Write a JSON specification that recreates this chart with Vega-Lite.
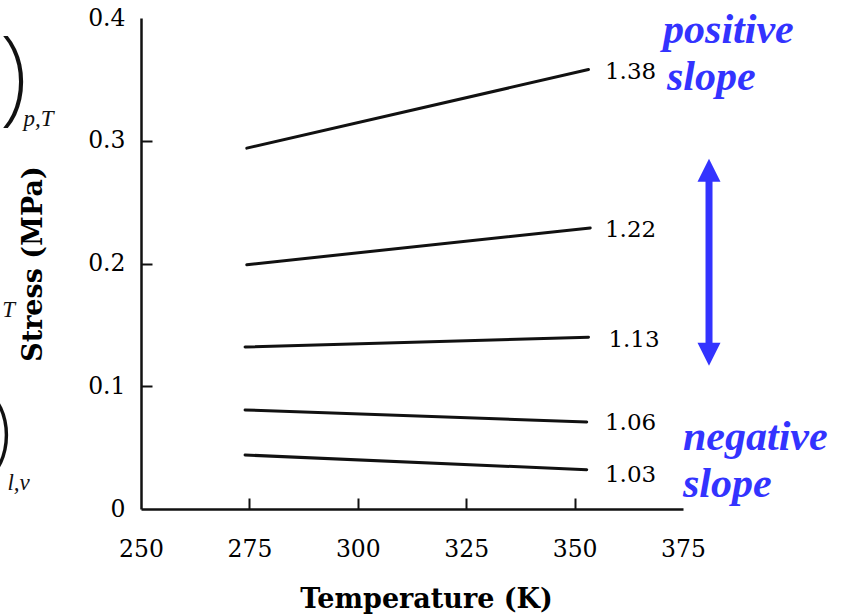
{
  "$schema": "https://vega.github.io/schema/vega-lite/v6.json",
  "width": 542,
  "height": 491,
  "autosize": {"type": "none"},
  "padding": {"left": 141, "top": 18, "right": 162, "bottom": 105},
  "background": "white",
  "config": {"view": {"stroke": null}},
  "datasets": {
    "curves": [
      {"s": "1.38", "T": 274.4, "stress": 0.294},
      {"s": "1.38", "T": 353.2, "stress": 0.358},
      {"s": "1.22", "T": 274.4, "stress": 0.199},
      {"s": "1.22", "T": 353.6, "stress": 0.229},
      {"s": "1.13", "T": 274.0, "stress": 0.132},
      {"s": "1.13", "T": 353.2, "stress": 0.140},
      {"s": "1.06", "T": 274.0, "stress": 0.0807},
      {"s": "1.06", "T": 352.8, "stress": 0.0709},
      {"s": "1.03", "T": 274.0, "stress": 0.044},
      {"s": "1.03", "T": 352.8, "stress": 0.032}
    ],
    "curveLabels": [
      {"label": "1.38", "T": 357.0, "stress": 0.356},
      {"label": "1.22", "T": 357.0, "stress": 0.2274},
      {"label": "1.13", "T": 357.8, "stress": 0.1378},
      {"label": "1.06", "T": 357.0, "stress": 0.0701},
      {"label": "1.03", "T": 357.0, "stress": 0.0277}
    ],
    "notes": [
      {"text": "positive", "T": 370.4, "stress": 0.380},
      {"text": "slope", "T": 371.3, "stress": 0.3416},
      {"text": "negative", "T": 375.0, "stress": 0.048},
      {"text": "slope", "T": 375.0, "stress": 0.0098}
    ],
    "arrowShaft": [
      {"T": 381.0, "stress": 0.276, "stress2": 0.126}
    ],
    "arrowHeads": [
      {"T": 381.0, "stress": 0.276, "dir": "up"},
      {"T": 381.0, "stress": 0.126, "dir": "down"}
    ],
    "parenBig": [
      {"text": ")", "T": 220.6, "stress": 0.350}
    ],
    "parenSmall": [
      {"text": ")", "T": 217.5, "stress": 0.061}
    ],
    "subs": [
      {"text": "p,T", "T": 222.9, "stress": 0.312},
      {"text": "T", "T": 218.0, "stress": 0.1565},
      {"text": "l,v", "T": 219.2, "stress": 0.0155}
    ]
  },
  "encoding": {
    "x": {
      "field": "T",
      "type": "quantitative",
      "scale": {"domain": [250, 375], "nice": false, "zero": false},
      "axis": {
        "title": "Temperature (K)",
        "values": [250, 275, 300, 325, 350, 375],
        "format": "d",
        "grid": false,
        "labelFont": "DejaVu Serif",
        "labelFontSize": 23.5,
        "labelColor": "#000000",
        "labelFlush": false,
        "labelOverlap": false,
        "labelBound": false,
        "labelPadding": 39,
        "tickSize": -11,
        "tickWidth": 2,
        "tickColor": "#111111",
        "tickOpacity": {"condition": {"test": "datum.value == 375 || datum.value == 250", "value": 0}, "value": 1},
        "domainColor": "#111111",
        "domainWidth": 2.5,
        "titleFont": "DejaVu Serif",
        "titleFontWeight": "bold",
        "titleFontSize": 27,
        "titleColor": "#000000",
        "titlePadding": 26,
        "titleX": 285
      }
    },
    "y": {
      "field": "stress",
      "type": "quantitative",
      "scale": {"domain": [0, 0.4], "nice": false},
      "axis": {
        "title": "Stress (MPa)",
        "values": [0, 0.1, 0.2, 0.3, 0.4],
        "format": "~g",
        "grid": false,
        "labelFont": "DejaVu Serif",
        "labelFontSize": 23.5,
        "labelColor": "#000000",
        "labelFlush": false,
        "labelOverlap": false,
        "labelBound": false,
        "labelPadding": 27,
        "tickSize": -11,
        "tickWidth": 2,
        "tickColor": "#111111",
        "tickOpacity": {"condition": {"test": "datum.value == 0.4 || datum.value == 0", "value": 0}, "value": 1},
        "domainColor": "#111111",
        "domainWidth": 2.5,
        "titleFont": "DejaVu Serif",
        "titleFontWeight": "bold",
        "titleFontSize": 27,
        "titleColor": "#000000",
        "titlePadding": 40
      }
    }
  },
  "layer": [
    {
      "data": {"name": "curves"},
      "mark": {"type": "line", "color": "#111111", "strokeWidth": 3, "strokeCap": "round"},
      "encoding": {"detail": {"field": "s", "type": "nominal"}}
    },
    {
      "data": {"name": "curveLabels"},
      "mark": {"type": "text", "font": "DejaVu Serif", "fontSize": 23, "align": "left", "baseline": "middle", "color": "#000000"},
      "encoding": {"text": {"field": "label", "type": "nominal"}}
    },
    {
      "data": {"name": "notes"},
      "mark": {"type": "text", "font": "Liberation Serif", "fontSize": 42, "fontStyle": "italic", "fontWeight": "bold", "align": "left", "baseline": "alphabetic", "color": "#3333ff"},
      "encoding": {"text": {"field": "text", "type": "nominal"}}
    },
    {
      "data": {"name": "arrowShaft"},
      "mark": {"type": "rule", "color": "#3333ff", "strokeWidth": 7},
      "encoding": {"y2": {"field": "stress2"}}
    },
    {
      "data": {"name": "arrowHeads"},
      "mark": {"type": "point", "filled": true, "color": "#3333ff", "opacity": 1, "size": 529},
      "encoding": {
        "shape": {
          "field": "dir",
          "type": "nominal",
          "scale": {"domain": ["up", "down"], "range": ["M0,-1L1,1L-1,1Z", "M0,1L1,-1L-1,-1Z"]},
          "legend": null
        }
      }
    },
    {
      "data": {"name": "parenBig"},
      "mark": {"type": "text", "font": "Noto Sans", "fontWeight": 200, "fontSize": 106, "align": "center", "baseline": "middle", "color": "#111111"},
      "encoding": {"text": {"field": "text", "type": "nominal"}}
    },
    {
      "data": {"name": "parenSmall"},
      "mark": {"type": "text", "font": "Noto Sans", "fontWeight": 200, "fontSize": 88, "align": "center", "baseline": "middle", "color": "#111111"},
      "encoding": {"text": {"field": "text", "type": "nominal"}}
    },
    {
      "data": {"name": "subs"},
      "mark": {"type": "text", "font": "Liberation Serif", "fontSize": 23, "fontStyle": "italic", "align": "left", "baseline": "alphabetic", "color": "#111111"},
      "encoding": {"text": {"field": "text", "type": "nominal"}}
    }
  ]
}
